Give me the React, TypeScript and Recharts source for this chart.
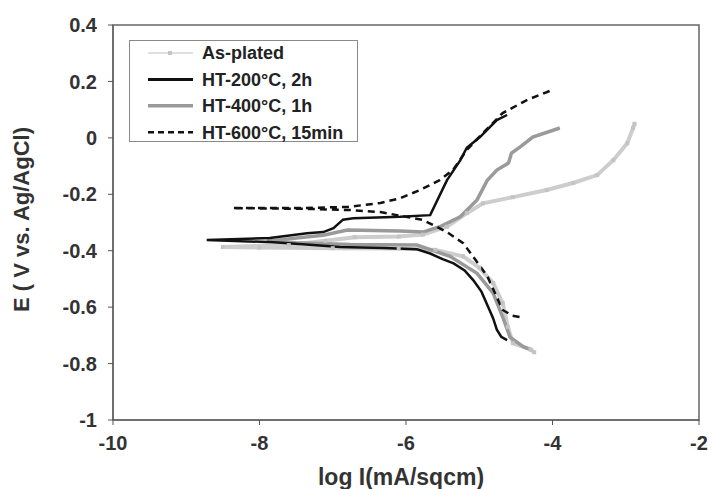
import React from "react";
import { LineChart, Line, XAxis, YAxis, ReferenceArea } from "recharts";

// Colors
const asPlatedColor = "#cdcdcd";
const ht200Color = "#111111";
const ht400Color = "#9a9a9a";
const ht600Color = "#111111";

const font = "'Liberation Sans', Arial, sans-serif";

// Axis ticks
const xTicks = [-10, -8, -6, -4, -2];
const yTicks = [-1, -0.8, -0.6, -0.4, -0.2, 0, 0.2, 0.4];

// As-plated: cathodic end -> Ecorr -> anodic end
const asPlatedLogI = [
  -4.25, -4.3, -4.54, -4.61, -4.68, -4.81, -5.0, -5.22, -5.6, -6.1, -7.0, -8.0, -8.5,
  -7.6, -7.1, -6.7, -6.1, -5.77, -5.44, -5.17, -4.95, -4.54, -4.08, -3.72, -3.39, -3.17, -2.98, -2.9, -2.88,
];
const asPlatedE = [
  -0.76, -0.75, -0.728, -0.67, -0.586, -0.515, -0.46, -0.42, -0.397, -0.392, -0.391, -0.389, -0.387,
  -0.38, -0.365, -0.352, -0.35, -0.343, -0.315, -0.267, -0.232, -0.21, -0.185, -0.16, -0.132, -0.079, -0.019, 0.035, 0.05,
];

// HT-200°C, 2h
const ht200LogI = [
  -4.62, -4.7, -4.76, -4.81, -4.86, -4.97, -5.08, -5.2, -5.35, -5.5, -5.67, -5.85, -6.3, -6.9, -7.27, -7.8, -8.72,
  -7.86, -7.35, -7.13, -6.99, -6.86, -6.72, -6.08, -5.67, -5.44, -5.26, -5.17, -4.99, -4.76, -4.62,
];
const ht200E = [
  -0.717, -0.705, -0.68, -0.64, -0.61, -0.545, -0.505, -0.47, -0.445, -0.43, -0.41, -0.395, -0.39, -0.387, -0.38, -0.37, -0.362,
  -0.355, -0.338, -0.334, -0.32, -0.29, -0.285, -0.28, -0.274, -0.15, -0.08, -0.035, 0.003, 0.063, 0.081,
];

// HT-400°C, 1h
const ht400LogI = [
  -4.28, -4.4, -4.58, -4.68, -4.81, -5.03, -5.4, -5.85, -6.76, -7.5, -7.9,
  -7.13, -6.8, -6.08, -5.77, -5.54, -5.26, -5.03, -4.89, -4.76, -4.6, -4.56, -4.44, -4.27, -3.9,
];
const ht400E = [
  -0.752, -0.74, -0.706, -0.635, -0.55, -0.48, -0.42, -0.38, -0.378, -0.372, -0.366,
  -0.345, -0.327, -0.33, -0.334, -0.315, -0.28, -0.22, -0.15, -0.114, -0.089, -0.054, -0.032, 0.003, 0.035,
];

// HT-600°C, 15min
const ht600LogI = [
  -4.45, -4.55, -4.68, -4.76, -4.89, -5.03, -5.22, -5.44, -5.77, -6.35, -6.76, -7.3, -8.0, -8.37,
  -7.5, -6.8, -6.35, -6.08, -5.81, -5.54, -5.36, -5.17, -4.95, -4.68, -4.35, -4.0,
];
const ht600E = [
  -0.635, -0.63, -0.61, -0.565, -0.49, -0.44, -0.373, -0.334, -0.291, -0.263, -0.256, -0.252, -0.25, -0.249,
  -0.249, -0.245, -0.231, -0.214, -0.185, -0.15, -0.114, -0.043, 0.017, 0.088, 0.134, 0.17,
];

const toPoints = (xs: number[], ys: number[]) => xs.map((x, i) => ({ x, E: ys[i] }));

const asPlated = toPoints(asPlatedLogI, asPlatedE);
const ht200 = toPoints(ht200LogI, ht200E);
const ht400 = toPoints(ht400LogI, ht400E);
const ht600 = toPoints(ht600LogI, ht600E);

// small square marker for the as-plated curve
const SquareDot = (props: any) => {
  const { cx, cy, key } = props;
  if (cx == null || cy == null) return null;
  return <rect key={key} x={cx - 2} y={cy - 2} width={4} height={4} fill="#c4c4c4" />;
};

const legendItems = [
  { label: "As-plated", color: "#d4d4d4", width: 1.5, dash: undefined as string | undefined, marker: true },
  { label: "HT-200°C, 2h", color: ht200Color, width: 3, dash: undefined, marker: false },
  { label: "HT-400°C, 1h", color: ht400Color, width: 3.5, dash: undefined, marker: false },
  { label: "HT-600°C, 15min", color: ht600Color, width: 2.5, dash: "6 4", marker: false },
];

const LegendBox = () => (
  <svg
    width={230}
    height={103}
    style={{ position: "absolute", left: 129, top: 40 }}
  >
    <rect x={0.5} y={0.5} width={228} height={101} fill="#fff" stroke="#8a8a8a" />
    {legendItems.map((it, i) => {
      const y = 13 + i * 26.4;
      return (
        <g key={it.label}>
          <line x1={19} x2={64} y1={y} y2={y} stroke={it.color} strokeWidth={it.width} strokeDasharray={it.dash} />
          {it.marker && <rect x={39} y={y - 2} width={4} height={4} fill="#c4c4c4" />}
          <text x={73} y={y} dy="0.36em" fontSize={18} fontWeight="bold" fill="#222" fontFamily={font}>
            {it.label}
          </text>
        </g>
      );
    })}
  </svg>
);

const tickStyle = { fontSize: 20, fontWeight: "bold", fill: "#333", fontFamily: font };

export default function App() {
  return (
    <div style={{ position: "absolute", left: 0, top: 0, width: 712, height: 489, background: "#fff" }}>
      <LineChart width={712} height={489} margin={{ top: 25, right: 13, left: 0, bottom: 0 }}>
        <XAxis
          dataKey="x"
          type="number"
          domain={[-10, -2]}
          ticks={xTicks}
          allowDataOverflow
          height={69}
          stroke="#555"
          tickSize={5}
          tickMargin={11}
          tick={tickStyle}
          label={{
            value: "log I(mA/sqcm)",
            position: "insideBottom",
            offset: 4,
            dx: -5,
            style: { fontSize: 23, fontWeight: "bold", fill: "#333", fontFamily: font },
          }}
        />
        <YAxis
          type="number"
          domain={[-1, 0.4]}
          ticks={yTicks}
          allowDataOverflow
          width={113}
          stroke="#555"
          tickSize={5}
          tickMargin={11}
          tick={tickStyle}
          label={{
            value: "E ( V vs. Ag/AgCl)",
            angle: -90,
            position: "insideLeft",
            offset: 21,
            dy: -3,
            style: { textAnchor: "middle", fontSize: 22, fontWeight: "bold", fill: "#333", fontFamily: font },
          }}
        />
        <ReferenceArea x1={-10} x2={-2} y1={-1} y2={0.4} fill="none" stroke="#666" strokeWidth={1.5} />
        <Line
          data={asPlated}
          dataKey="E"
          type="linear"
          stroke={asPlatedColor}
          strokeWidth={4}
          dot={<SquareDot />}
          isAnimationActive={false}
        />
        <Line data={ht400} dataKey="E" type="linear" stroke={ht400Color} strokeWidth={3.5} dot={false} isAnimationActive={false} />
        <Line data={ht200} dataKey="E" type="linear" stroke={ht200Color} strokeWidth={2.5} dot={false} isAnimationActive={false} />
        <Line
          data={ht600}
          dataKey="E"
          type="linear"
          stroke={ht600Color}
          strokeWidth={2.5}
          strokeDasharray="7 5"
          dot={false}
          isAnimationActive={false}
        />
      </LineChart>
      <LegendBox />
    </div>
  );
}
